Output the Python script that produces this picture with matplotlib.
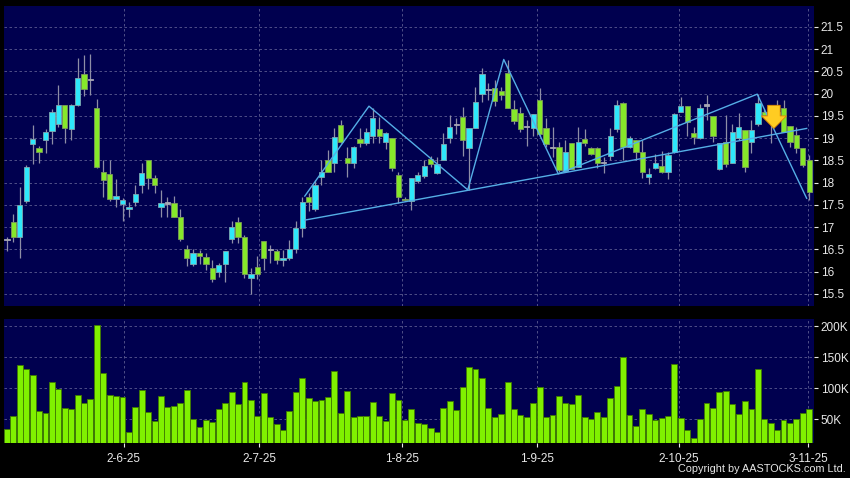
import matplotlib
matplotlib.use('Agg')
import numpy as np
import matplotlib.pyplot as plt

plt.rcParams['font.family'] = ['Liberation Sans', 'DejaVu Sans']

# ==================== 数据 ====================

opens = [16.71, 17.12, 16.77, 17.58, 18.88, 18.77, 18.96, 19.16, 19.32, 19.74,
         19.20, 19.74, 20.44, 20.30, 19.69, 18.25, 18.19, 17.63, 17.53, 17.40,
         17.57, 17.94, 18.50, 18.10, 17.45, 17.53, 17.55, 17.22, 16.50, 16.17,
         16.41, 16.34, 16.09, 15.99, 16.17, 16.73, 17.11, 16.79, 15.87, 16.11,
         16.70, 16.48, 16.47, 16.26, 16.30, 16.52, 16.99, 17.69, 17.42, 18.12,
         18.50, 18.44, 19.29, 18.55, 18.44, 18.98, 18.89, 19.04, 19.20, 18.92,
         19.00, 18.17, 17.63, 17.60, 18.05, 18.15, 18.53, 18.21, 18.51, 19.00,
         19.30, 19.48, 18.77, 19.22, 19.99, 20.08, 20.12, 20.07, 20.46, 19.65,
         19.56, 19.25, 19.22, 19.86, 19.22, 18.78, 18.81, 18.27, 18.89, 18.36,
         18.98, 18.79, 18.79, 18.44, 18.60, 19.20, 19.79, 18.81, 18.95, 18.68,
         18.12, 18.33, 18.38, 18.25, 18.70, 19.60, 19.72, 19.11, 19.00, 19.73,
         19.49, 18.30, 18.92, 18.45, 19.00, 19.19, 18.92, 19.32, 19.60, 19.55,
         19.60, 19.67, 19.27, 19.07, 18.77, 18.51]
highs = [16.77, 17.30, 17.91, 18.39, 19.30, 18.83, 19.21, 19.65, 20.20, 19.74,
         19.78, 20.80, 20.86, 20.89, 19.88, 18.50, 18.50, 18.08, 17.65, 17.57,
         17.96, 18.44, 18.50, 18.18, 17.84, 17.69, 17.70, 17.40, 16.60, 16.50,
         16.49, 16.41, 16.26, 16.19, 16.47, 17.13, 17.24, 16.83, 16.08, 16.35,
         16.70, 16.60, 16.50, 16.49, 16.71, 17.13, 17.69, 17.76, 18.06, 18.50,
         18.74, 19.22, 19.40, 18.81, 18.83, 19.22, 19.24, 19.67, 19.47, 19.15,
         19.00, 18.23, 17.68, 18.10, 18.25, 18.51, 18.60, 18.58, 19.11, 19.52,
         19.45, 19.71, 19.22, 20.16, 20.57, 20.25, 20.31, 20.16, 20.76, 19.86,
         19.70, 19.41, 19.54, 20.12, 19.45, 19.25, 18.92, 18.96, 18.90, 19.25,
         19.20, 18.80, 18.81, 18.57, 19.22, 19.86, 19.82, 19.05, 18.96, 18.96,
         18.33, 18.65, 18.72, 18.70, 19.56, 19.93, 19.72, 19.25, 19.78, 19.97,
         19.49, 18.90, 19.52, 19.32, 19.56, 19.19, 19.41, 19.99, 19.65, 19.70,
         19.86, 19.87, 19.27, 19.26, 18.77, 18.62]
lows = [16.47, 16.66, 16.32, 17.55, 18.41, 18.45, 18.66, 18.86, 19.25, 18.89,
        18.95, 19.72, 19.95, 19.98, 18.32, 17.69, 17.60, 17.46, 17.15, 17.22,
        17.48, 17.76, 17.85, 17.78, 17.22, 17.24, 17.22, 16.70, 16.12, 16.12,
        16.17, 16.05, 15.76, 15.89, 15.76, 16.64, 16.65, 15.87, 15.50, 15.83,
        16.04, 16.20, 16.17, 16.12, 16.26, 16.41, 16.79, 17.37, 17.37, 17.94,
        18.23, 18.25, 18.90, 18.12, 18.32, 18.81, 18.85, 18.89, 18.89, 18.75,
        18.27, 17.54, 17.58, 17.39, 18.00, 18.10, 18.36, 18.19, 18.50, 18.89,
        19.10, 18.59, 17.84, 19.22, 19.82, 19.85, 19.72, 19.86, 19.67, 19.32,
        19.15, 18.83, 19.04, 19.04, 18.81, 18.57, 18.23, 18.25, 18.30, 18.36,
        18.82, 18.62, 18.32, 18.21, 18.51, 19.15, 18.50, 18.77, 18.51, 18.10,
        17.97, 18.30, 18.21, 18.08, 18.66, 19.58, 19.04, 18.88, 18.98, 19.41,
        18.92, 18.29, 18.36, 18.45, 18.96, 18.25, 18.66, 19.28, 19.48, 18.90,
        19.48, 19.15, 18.81, 18.66, 18.36, 17.61]
closes = [16.71, 16.77, 17.51, 18.35, 18.98, 18.68, 19.13, 19.58, 19.74, 19.22,
          19.74, 20.35, 20.10, 20.30, 18.36, 18.06, 17.63, 17.70, 17.61, 17.45,
          17.74, 18.21, 18.11, 17.94, 17.55, 17.53, 17.22, 16.73, 16.32, 16.41,
          16.35, 16.17, 15.83, 16.15, 16.47, 17.00, 16.79, 15.96, 15.96, 15.94,
          16.30, 16.48, 16.26, 16.32, 16.52, 16.99, 17.57, 17.57, 17.96, 18.23,
          18.25, 19.02, 18.92, 18.44, 18.80, 18.89, 19.13, 19.45, 19.06, 19.12,
          18.32, 17.67, 17.61, 18.10, 18.17, 18.38, 18.42, 18.41, 18.86, 19.26,
          19.30, 18.96, 19.22, 19.81, 20.44, 20.08, 19.84, 19.97, 19.69, 19.39,
          19.20, 19.25, 19.54, 19.10, 18.87, 18.78, 18.29, 18.68, 18.30, 18.91,
          18.89, 18.64, 18.44, 18.44, 19.05, 19.75, 18.80, 19.00, 18.68, 18.23,
          18.19, 18.44, 18.25, 18.62, 19.54, 19.72, 19.37, 19.02, 19.67, 19.73,
          19.05, 18.90, 18.42, 19.15, 19.25, 18.36, 19.19, 19.79, 19.52, 19.45,
          19.52, 19.15, 18.92, 18.77, 18.40, 17.80]

# 成交量（千股）
volumes = [34.4, 55.3, 138.0, 130.6, 121.0, 63.9, 60.2, 110.2, 99.4, 68.2,
           66.6, 89.7, 76.3, 83.2, 201.6, 125.2, 89.7, 87.6, 86.5, 29.5,
           70.3, 97.3, 61.3, 46.8, 87.6, 70.3, 72.0, 76.8, 97.3, 50.0,
           38.1, 48.4, 45.6, 66.6, 76.8, 94.0, 75.2, 109.7, 80.6, 55.3,
           91.9, 53.2, 42.4, 32.7, 63.4, 94.0, 116.1, 84.9, 80.0, 81.1,
           86.5, 127.4, 59.7, 96.2, 53.2, 55.9, 55.9, 78.4, 55.3, 47.8,
           91.9, 81.1, 48.9, 66.1, 44.6, 42.4, 36.0, 29.5, 68.2, 80.0,
           65.0, 102.1, 133.9, 130.6, 116.1, 67.7, 53.7, 58.5, 109.7, 66.1,
           56.9, 54.2, 75.8, 102.6, 53.7, 56.5, 87.6, 75.8, 74.2, 88.7,
           54.2, 51.0, 61.8, 53.7, 84.4, 103.2, 150.5, 56.5, 39.2, 66.1,
           59.0, 48.9, 51.6, 55.3, 138.7, 52.1, 32.7, 19.8, 50.0, 75.8,
           68.7, 93.5, 95.6, 74.7, 58.5, 79.5, 66.6, 131.6, 50.0, 44.6,
           32.7, 48.9, 44.6, 50.0, 59.7, 66.1]

date_ticks = [18.2, 39.3, 61.6, 82.6, 104.7, 124.8]
date_labels = ['2-6-25', '2-7-25', '1-8-25', '1-9-25', '2-10-25', '3-11-25']
price_ticks = [15.5, 16, 16.5, 17, 17.5, 18, 18.5, 19, 19.5, 20, 20.5, 21, 21.5]
price_labels = ['15.5', '16', '16.5', '17', '17.5', '18', '18.5', '19',
                '19.5', '20', '20.5', '21', '21.5']
volume_ticks = [50, 100, 150, 200]
volume_labels = ['50K', '100K', '150K', '200K']

# 形态线（头肩顶 + 颈线）
zigzag_x = [46.4, 56.4, 71.8, 77.4, 85.9, 116.9, 124.6]
zigzag_y = [17.70, 19.72, 17.84, 20.77, 18.20, 19.99, 17.65]
neck_x = [46.4, 124.6]
neck_y = [17.16, 19.22]

# 卖出信号箭头
signal_x = 119.5
signal_top = 19.74
signal_tip = 19.22

# ==================== 绘图 ====================

BG = '#00004f'
UP = '#2ee8fb'
DOWN = '#86e82a'
FLAT = '#a8a8b4'
GRID = '#5c5c90'
TXT = '#e8e8e8'

o = np.array(opens)
h = np.array(highs)
l = np.array(lows)
c = np.array(closes)
x = np.arange(len(o))

fig = plt.figure(figsize=(8.5, 4.78), dpi=100, facecolor='black')
ax = fig.add_axes([0.0047, 0.3598, 0.9529, 0.6285])
axv = fig.add_axes([0.0047, 0.0722, 0.9529, 0.2604])

for a in (ax, axv):
    a.set_facecolor(BG)
    a.set_axisbelow(True)
    for s in a.spines.values():
        s.set_visible(False)
    a.yaxis.tick_right()
    a.tick_params(axis='y', colors=TXT, labelsize=8.5, length=3, width=0.8, pad=2)
    a.set_xlim(-0.47, 125.74)
    a.set_xticks(date_ticks)
    a.grid(True, color=GRID, lw=0.6, ls=(0, (3, 3)))

# 蜡烛
colors = np.where(c > o, UP, np.where(c < o, DOWN, FLAT))
edges = np.where(c > o, '#7fa8b0', np.where(c < o, '#7c9a5a', FLAT))
bottoms = np.minimum(o, c)
heights = np.maximum(np.abs(c - o), 0.03)
ax.vlines(x, l, h, color='#8e8ea6', lw=0.9, zorder=2)
ax.bar(x, heights, bottom=bottoms, width=0.82, color=colors,
       edgecolor=edges, lw=0.6, zorder=3)

ax.plot(zigzag_x, zigzag_y, color='#55aee6', lw=1.0, zorder=4)
ax.plot(neck_x, neck_y, color='#55aee6', lw=1.0, zorder=4)

ax.annotate('', xy=(signal_x, signal_tip), xytext=(signal_x, signal_top),
            arrowprops=dict(arrowstyle='simple,head_length=0.9,head_width=1.8,tail_width=0.9',
                            fc='#ffcc22', ec='#e08a00', lw=0.6, mutation_scale=10,
                            shrinkA=0, shrinkB=0),
            zorder=5)

ax.set_ylim(15.23, 21.98)
ax.set_yticks(price_ticks)
ax.set_yticklabels(price_labels)
ax.tick_params(axis='x', length=0, labelbottom=False)

# 成交量
axv.bar(x, volumes, width=0.92, color='#80f000', edgecolor='#3f7a00',
        lw=0.6, zorder=3)
axv.set_ylim(11, 211.8)
axv.set_yticks(volume_ticks)
axv.set_yticklabels(volume_labels)
axv.set_xticklabels(date_labels)
axv.tick_params(axis='x', colors=TXT, labelsize=8.5, length=3, width=0.8, pad=4)

fig.text(0.995, 0.008, 'Copyright by AASTOCKS.com Ltd.', color=TXT,
         fontsize=7.8, ha='right', va='bottom')

fig.savefig('out.png', dpi=100, facecolor='black')
